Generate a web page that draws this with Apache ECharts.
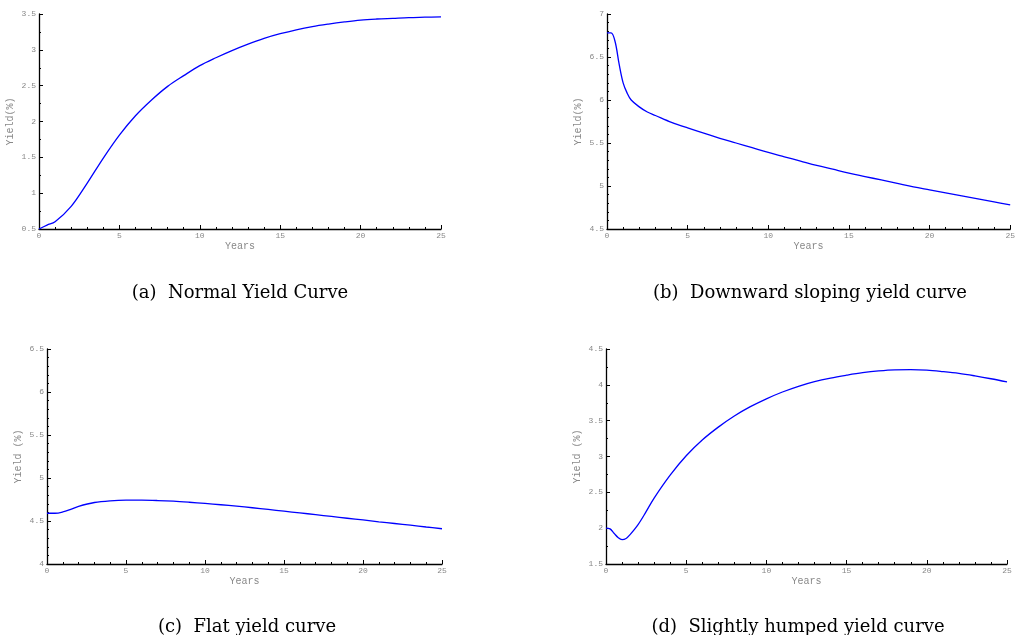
<!DOCTYPE html>
<html>
<head>
<meta charset="utf-8">
<script src="https://cdn.jsdelivr.net/npm/echarts@6/dist/echarts.min.js"></script>
<style>html,body{margin:0;padding:0;background:#fff}#c{width:1018px;height:635px}</style>
</head>
<body>
<div id="c"></div>
<script>
// Panel (a) Normal yield curve
const yearsA = [0, 0.5, 1, 2, 3, 4, 5, 6, 7, 8, 9, 10, 11, 12, 13, 14, 15, 16, 17, 18, 19, 20, 21, 22, 23, 24, 25];
const yieldA = [0.50, 0.555, 0.60, 0.815, 1.14, 1.49, 1.81, 2.08, 2.30, 2.49, 2.64, 2.78, 2.89, 2.99, 3.08, 3.16, 3.225, 3.28, 3.325, 3.36, 3.39, 3.415, 3.43, 3.44, 3.45, 3.455, 3.46];
// Panel (b) Downward sloping
const yearsB = [0, 0.25, 0.5, 0.75, 1, 1.25, 1.5, 2, 2.5, 3, 4, 5, 6, 7, 8, 9, 10, 11, 12, 13, 14, 15, 16, 17, 18, 19, 20, 21, 22, 23, 24, 25];
const yieldB = [6.78, 6.78, 6.68, 6.42, 6.20, 6.08, 6.00, 5.92, 5.86, 5.82, 5.74, 5.675, 5.615, 5.555, 5.50, 5.445, 5.39, 5.34, 5.29, 5.24, 5.195, 5.15, 5.11, 5.07, 5.03, 4.99, 4.955, 4.92, 4.885, 4.85, 4.815, 4.78];
// Panel (c) Flat
const yearsC = [0, 0.5, 1, 1.5, 2, 3, 4, 5, 6, 7, 8, 9, 10, 11, 12, 13, 14, 15, 16, 17, 18, 19, 20, 21, 22, 23, 24, 25];
const yieldC = [4.59, 4.59, 4.605, 4.635, 4.67, 4.715, 4.735, 4.742, 4.742, 4.738, 4.73, 4.718, 4.704, 4.689, 4.672, 4.654, 4.634, 4.614, 4.594, 4.574, 4.553, 4.532, 4.512, 4.491, 4.471, 4.451, 4.43, 4.41];
// Panel (d) Slightly humped
const yearsD = [0, 0.25, 0.5, 0.75, 1, 1.25, 1.5, 2, 2.5, 3, 4, 5, 6, 7, 8, 9, 10, 11, 12, 13, 14, 15, 16, 17, 18, 19, 20, 21, 22, 23, 24, 25];
const yieldD = [2.00, 1.99, 1.93, 1.87, 1.84, 1.855, 1.91, 2.05, 2.23, 2.42, 2.74, 3.01, 3.23, 3.41, 3.565, 3.695, 3.805, 3.90, 3.98, 4.045, 4.095, 4.135, 4.17, 4.195, 4.21, 4.212, 4.205, 4.185, 4.16, 4.125, 4.085, 4.04];

const captions = ['(a)  Normal Yield Curve', '(b)  Downward sloping yield curve', '(c)  Flat yield curve', '(d)  Slightly humped yield curve'];
const yNames = ['Yield(%)', 'Yield(%)', 'Yield (%)', 'Yield (%)'];
const xName = 'Years';
const yRanges = [[0.5, 3.5, 0.5, 2], [4.5, 7, 0.5, 5], [4, 6.5, 0.5, 5], [1.5, 4.5, 0.5, 2]];

const grids = [
  {left: 39, top: 14, width: 402, height: 215},
  {left: 607, top: 14, width: 408, height: 215},
  {left: 47, top: 349, width: 395, height: 215},
  {left: 606, top: 349, width: 401, height: 215}
];
const capPos = [[235, 279], [805, 279], [242, 613], [793, 613]];

const labelFont = {color: '#888', fontFamily: 'Liberation Mono', fontSize: 8};
const nameFont = {color: '#888', fontFamily: 'Liberation Mono', fontSize: 10};
const axisLine = {show: true, onZero: false, lineStyle: {color: '#000', width: 1.3}};

const xAxes = grids.map((g, i) => ({
  type: 'value', gridIndex: i, min: 0, max: 25, interval: 5,
  name: xName, nameLocation: 'middle', nameGap: 9, nameTextStyle: nameFont,
  axisLine: axisLine,
  axisTick: {show: true, inside: true, length: 4, lineStyle: {color: '#000'}},
  minorTick: {show: true, splitNumber: 5, length: 2, lineStyle: {color: '#000'}},
  axisLabel: Object.assign({margin: 3}, labelFont),
  splitLine: {show: false}
}));
const yAxes = grids.map((g, i) => ({
  type: 'value', gridIndex: i, min: yRanges[i][0], max: yRanges[i][1], interval: yRanges[i][2],
  name: yNames[i], nameLocation: 'middle', nameGap: 24, nameTextStyle: nameFont,
  axisLine: axisLine,
  axisTick: {show: true, inside: true, length: 4, lineStyle: {color: '#000'}},
  minorTick: {show: true, splitNumber: yRanges[i][3], length: 2, lineStyle: {color: '#000'}},
  axisLabel: Object.assign({margin: 3}, labelFont),
  splitLine: {show: false}
}));

const xs = [yearsA, yearsB, yearsC, yearsD];
const ys = [yieldA, yieldB, yieldC, yieldD];
const series = xs.map((xv, i) => ({
  type: 'line', xAxisIndex: i, yAxisIndex: i,
  data: xv.map((x, k) => [x, ys[i][k]]),
  showSymbol: false, smooth: 0.35,
  lineStyle: {color: '#0000ff', width: 1.3},
  clip: false
}));

const titles = captions.map((t, i) => ({
  text: t, left: capPos[i][0], top: capPos[i][1], textAlign: 'center',
  textStyle: {fontFamily: 'DejaVu Serif', fontWeight: 'normal', fontSize: 18, color: '#000'}
}));

const chart = echarts.init(document.getElementById('c'), null, {renderer: 'canvas'});
chart.setOption({
  animation: false,
  backgroundColor: '#fff',
  title: titles,
  grid: grids,
  xAxis: xAxes,
  yAxis: yAxes,
  series: series
});
</script>
</body>
</html>
